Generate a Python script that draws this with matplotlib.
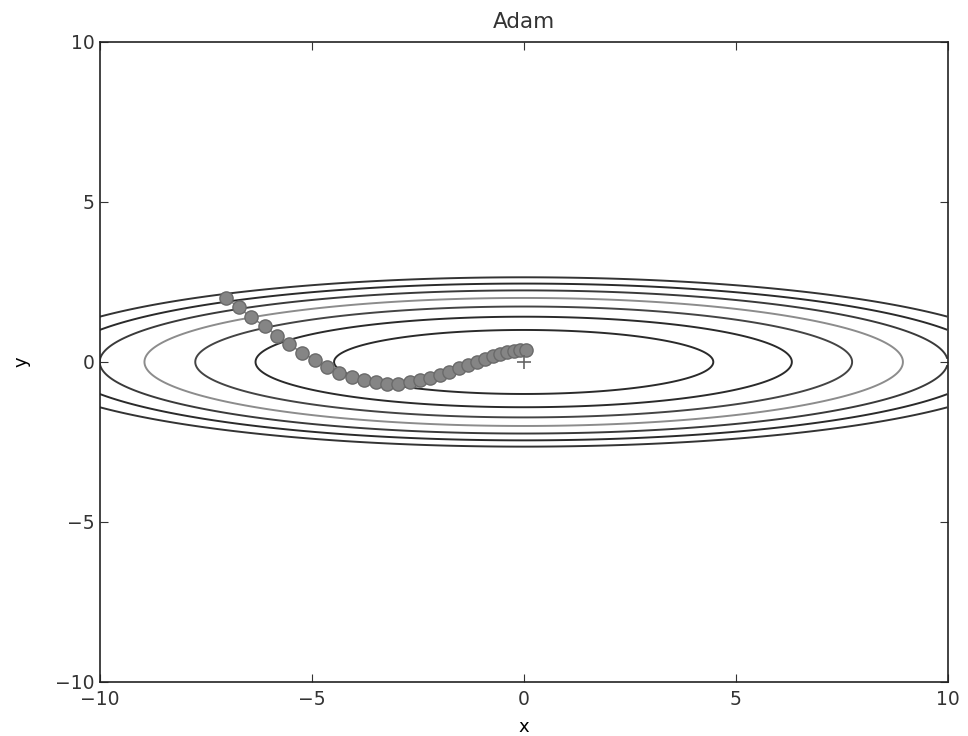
import numpy as np
import matplotlib
matplotlib.use("Agg")
from matplotlib import pyplot as plt

# optimizer path
x_history = [-7.01, -6.72, -6.44, -6.11, -5.82, -5.54, -5.22, -4.93, -4.65, -4.36,
             -4.05, -3.77, -3.49, -3.22, -2.96, -2.69, -2.45, -2.22, -1.98, -1.75,
             -1.53, -1.31, -1.10, -0.91, -0.72, -0.55, -0.39, -0.24, -0.09, 0.05]
y_history = [1.99, 1.71, 1.40, 1.125, 0.82, 0.55, 0.29, 0.06, -0.15, -0.33,
             -0.47, -0.56, -0.63, -0.68, -0.68, -0.63, -0.56, -0.49, -0.41, -0.30,
             -0.20, -0.09, 0.01, 0.09, 0.19, 0.25, 0.30, 0.34, 0.37, 0.37]

levels = [1, 2, 3, 4, 5, 6, 7]
level_colors = ['#2a2a2a', '#2a2a2a', '#444444', '#8c8c8c', '#3a3a3a', '#2a2a2a', '#333333']


def f(x, y):
    return x**2 / 20.0 + y**2


def main():
    plt.rcParams['font.family'] = 'DejaVu Sans'
    plt.rcParams['font.size'] = 13
    plt.rcParams['text.color'] = '#333333'
    plt.rcParams['xtick.color'] = '#333333'
    plt.rcParams['ytick.color'] = '#333333'

    fig = plt.figure(figsize=(9.68, 7.36), dpi=100)
    ax = fig.add_axes([0.103, 0.0734, 0.876, 0.8696])

    xs = np.arange(-10, 10, 0.01)
    ys = np.arange(-5, 5, 0.01)
    X, Y = np.meshgrid(xs, ys)
    Z = f(X, Y)

    ax.contour(X, Y, Z, levels=levels, colors=level_colors, linewidths=1.4)

    ax.plot(x_history, y_history, 'o-', color='#858585', markersize=9.5,
            markeredgecolor='#6a6a6a', linewidth=1.2)
    ax.plot(0, 0, '+', color='#666666', markersize=10, markeredgewidth=1.2)

    ax.set_xlim(-10, 10)
    ax.set_ylim(-10, 10)
    ax.set_xticks([-10, -5, 0, 5, 10])
    ax.set_yticks([-10, -5, 0, 5, 10])
    ax.tick_params(direction='in', top=True, right=True, length=6, labelsize=13.5)
    ax.tick_params(axis='x', pad=6)
    for s in ax.spines.values():
        s.set_color('#222222')
        s.set_linewidth(1.2)

    ax.set_xlabel('x', fontsize=13, labelpad=6)
    ax.set_ylabel('y', fontsize=13, labelpad=18)
    ax.set_title('Adam', fontsize=15.5, pad=10)

    fig.savefig('out.png', dpi=100)


if __name__ == "__main__":
    main()
